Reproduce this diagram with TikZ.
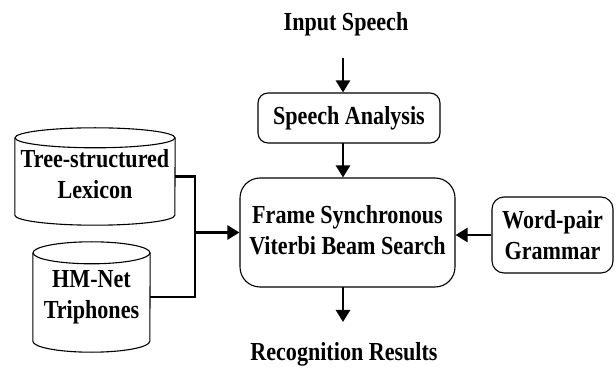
\documentclass[tikz,border=0pt]{standalone}
\usepackage{fontspec}
\newfontfamily\dfont[FakeStretch=0.85]{Liberation Serif}
\usetikzlibrary{arrows.meta,calc}
\begin{document}
\begin{tikzpicture}[x=1pt,y=1pt,
  txt/.style={font=\dfont\bfseries\fontsize{26}{31}\selectfont, align=center, inner sep=0pt},
  boxsty/.style={txt, draw=black, line width=1.1pt},
  cylsty/.style={draw=black, line width=1.1pt},
  conn/.style={line width=2.6pt, -{Triangle[length=12pt,width=14pt]}},
  plain/.style={line width=2.6pt}]
\useasboundingbox (0,0) rectangle (616,367);
% texts
\node[txt] (inp) at (346,343) {Input Speech};
\node[txt] (res) at (344,13) {Recognition Results};
% boxes
\node[boxsty, rounded corners=10pt, minimum width=182pt, minimum height=50pt] (ana) at (349,249) {Speech Analysis};
\node[boxsty, rounded corners=20pt, minimum width=215pt, minimum height=109pt] (srch) at (347.5,134.5) {\raisebox{-3pt}{\begin{tabular}{@{}c@{}}Frame Synchronous\\Viterbi Beam Search\end{tabular}}};
\node[boxsty, rounded corners=12pt, minimum width=121pt, minimum height=76pt] (gram) at (552.5,132) {Word-pair\\Grammar};
% cylinders
\node[txt, minimum width=160pt, minimum height=97pt] (lex) at (95,190.5) {\raisebox{-4pt}{\begin{tabular}{@{}c@{}}Tree-structured\\Lexicon\end{tabular}}};
\draw[cylsty] ($(lex.north west)+(0,-10)$) -- ($(lex.south west)+(0,10)$)
  arc[start angle=180,end angle=360,x radius=80,y radius=10] -- ($(lex.north east)+(0,-10)$);
\draw[cylsty] ($(lex.north)+(0,-10)$) ellipse[x radius=80, y radius=10];
\node[txt, minimum width=117pt, minimum height=110pt] (hmm) at (91.5,70) {\raisebox{-4pt}{\begin{tabular}{@{}c@{}}HM-Net\\Triphones\end{tabular}}};
\draw[cylsty] ($(hmm.north west)+(0,-11)$) -- ($(hmm.south west)+(0,11)$)
  arc[start angle=180,end angle=360,x radius=58.5,y radius=11] -- ($(hmm.north east)+(0,-11)$);
\draw[cylsty] ($(hmm.north)+(0,-11)$) ellipse[x radius=58.5, y radius=11];
% connectors
\coordinate (a1) at (343,309);
\draw[conn] (a1) -- (a1 |- ana.north);
\coordinate (a2) at (343,224);
\draw[conn] (a2) -- (a2 |- srch.north);
\coordinate (a3) at (343,80);
\coordinate (a4) at (343,45);
\draw[conn] (a3) -- (a4);
\coordinate (j) at (195,134.5);
\draw[plain] (lex.east) -| (j) |- (hmm.east);
\draw[conn] (j) -- (srch.west);
\draw[conn] (gram.west) -- (gram.west -| srch.east);
\end{tikzpicture}
\end{document}
